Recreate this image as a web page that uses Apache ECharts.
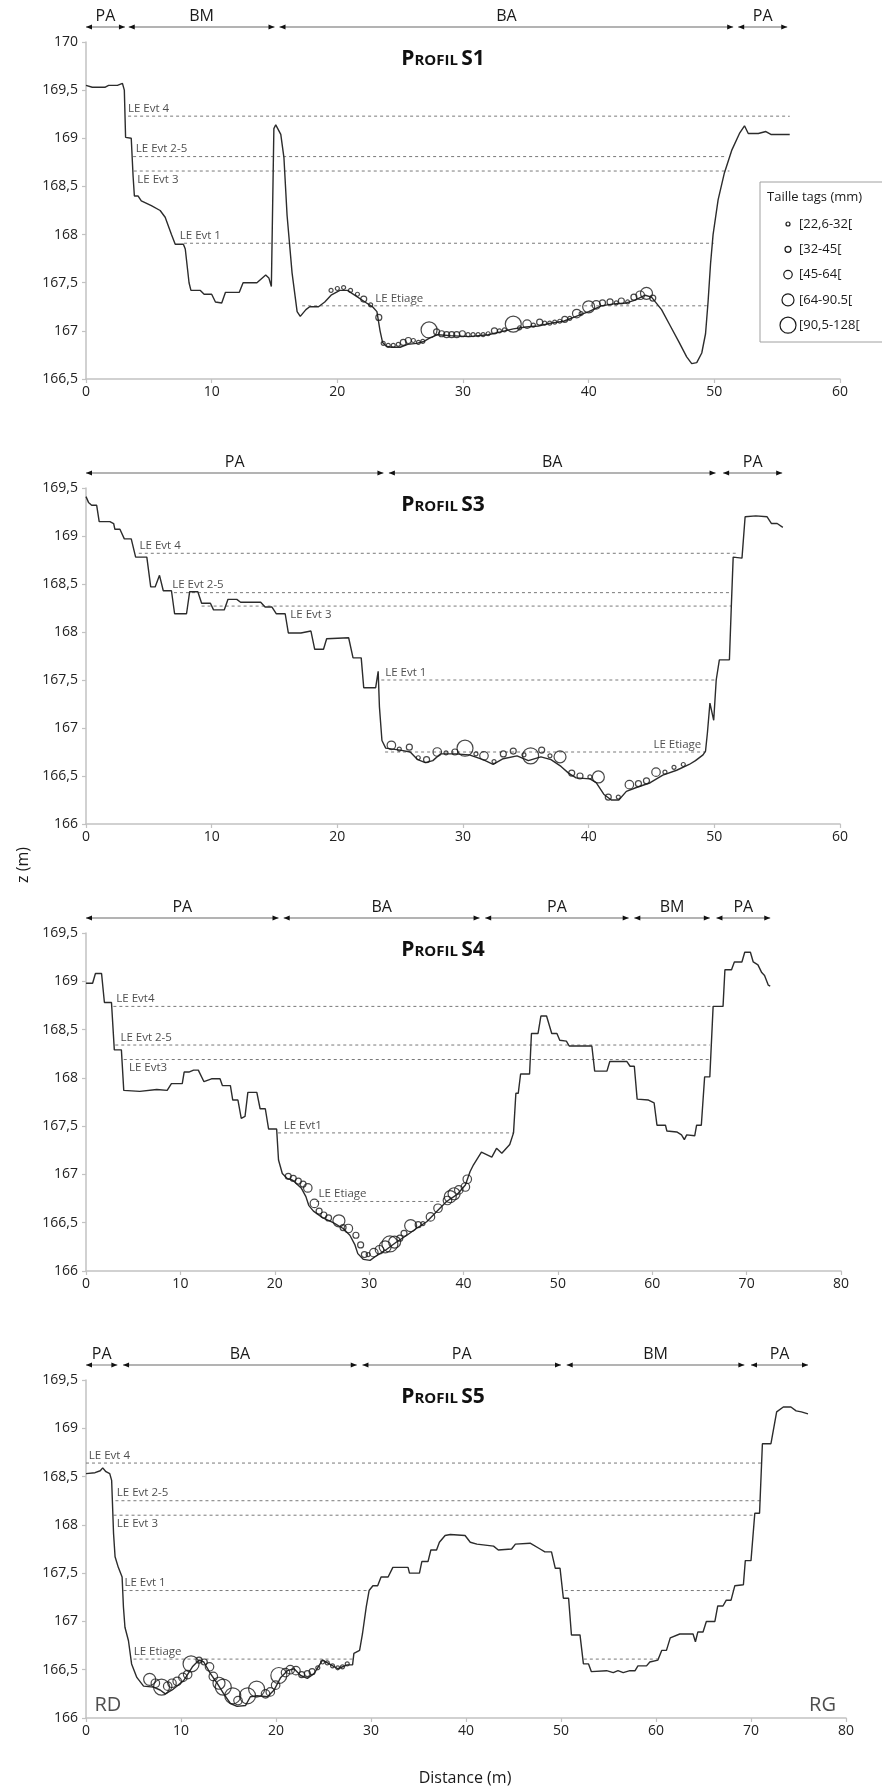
<!DOCTYPE html>
<html><head><meta charset="utf-8">
<script src="https://cdn.jsdelivr.net/npm/echarts@6/dist/echarts.min.js"></script>
<style>html,body{margin:0;padding:0;background:#fff}#c{width:882px;height:1789px}</style>
</head><body><div id="c"></div>
<script>
// ---------- DATA ----------
const tagClasses = ['[22,6-32[', '[32-45[', '[45-64[', '[64-90.5[', '[90,5-128['];

// Profil S1
const s1Profile = [[0,169.55],[0.5,169.53],[1.5,169.53],[1.8,169.55],[2.5,169.55],[2.9,169.57],[3.05,169.5],[3.15,169.01],[3.6,169.0],[3.75,168.6],[3.85,168.4],[4.15,168.4],[4.4,168.35],[5.2,168.3],[5.9,168.25],[6.3,168.18],[6.8,168.0],[7.1,167.9],[7.75,167.9],[7.9,167.85],[8.2,167.5],[8.35,167.42],[9.1,167.42],[9.4,167.38],[10.0,167.38],[10.3,167.3],[10.8,167.29],[11.1,167.4],[12.2,167.4],[12.5,167.5],[13.6,167.5],[14.3,167.58],[14.55,167.55],[14.75,167.46],[14.95,169.1],[15.1,169.14],[15.5,169.04],[15.75,168.8],[16.0,168.2],[16.4,167.6],[16.8,167.2],[17.05,167.15],[17.5,167.22],[17.8,167.25],[18.5,167.25],[19.0,167.3],[19.5,167.37],[20.2,167.42],[20.8,167.42],[21.5,167.36],[22.2,167.3],[22.8,167.25],[23.15,167.2],[23.4,167.0],[23.6,166.88],[23.9,166.84],[24.3,166.83],[25.0,166.83],[25.6,166.86],[26.3,166.87],[26.9,166.89],[27.4,166.93],[28.0,166.96],[29,166.95],[30.5,166.94],[32,166.96],[33,166.99],[34,167.02],[35,167.04],[36,167.05],[37,167.08],[38,167.1],[39,167.15],[40,167.2],[41,167.26],[42,167.28],[43,167.29],[43.7,167.32],[44.5,167.37],[45,167.35],[45.8,167.22],[46.5,167.05],[47.2,166.88],[47.8,166.73],[48.2,166.66],[48.6,166.67],[49.0,166.77],[49.3,166.97],[49.5,167.3],[49.7,167.7],[49.9,168.0],[50.3,168.36],[50.8,168.64],[51.4,168.88],[52.0,169.05],[52.4,169.13],[52.7,169.05],[53.5,169.05],[54.1,169.07],[54.5,169.04],[56,169.04]];
const s1Tags = [[19.5,167.42,1],[20.0,167.44,1],[20.5,167.45,1],[21.05,167.42,1],[21.6,167.38,1],[22.1,167.33,2],[22.65,167.27,1],[23.3,167.14,2],[23.65,166.87,1],[24.05,166.85,1],[24.45,166.85,1],[24.85,166.86,1],[25.25,166.88,2],[25.65,166.9,2],[26.05,166.9,1],[26.45,166.88,1],[26.8,166.89,1],[27.3,167.01,5],[27.9,166.99,2],[28.3,166.97,2],[28.7,166.96,2],[29.1,166.96,2],[29.5,166.96,2],[29.95,166.97,2],[30.4,166.96,1],[30.8,166.96,1],[31.2,166.96,1],[31.6,166.96,1],[32.0,166.97,1],[32.5,167.0,2],[32.9,167.0,1],[33.3,167.01,1],[34.0,167.07,5],[34.5,167.03,1],[35.1,167.07,3],[35.6,167.06,1],[36.1,167.09,2],[36.5,167.08,1],[36.9,167.08,1],[37.3,167.09,1],[37.7,167.1,1],[38.1,167.12,2],[38.5,167.13,1],[39.05,167.18,3],[39.4,167.18,1],[40.0,167.25,4],[40.6,167.27,3],[41.1,167.29,2],[41.7,167.3,2],[42.2,167.29,1],[42.6,167.31,2],[43.1,167.3,1],[43.6,167.35,2],[44.1,167.37,3],[44.6,167.39,4],[45.1,167.34,2]];
const s1Levels = [['LE Evt 4',169.23,[[3.35,56.0]]],['LE Evt 2-5',168.81,[[3.75,51.0]]],['LE Evt 3',168.66,[[3.8,51.2]]],['LE Evt 1',167.91,[[7.8,49.95]]],['LE Etiage',167.26,[[17.2,49.4]]]];
const s1LevelLabels = [['LE Evt 4',3.38,169.23],['LE Evt 2-5',4.0,168.81],['LE Evt 3',4.12,168.66],['LE Evt 1',7.5,167.91],['LE Etiage',23.06,167.26]];
const s1LabelSides = ['above','above','below','above','above'];
const s1Zones = [['PA',0,3.1],['BM',3.4,15.0],['BA',15.4,51.5],['PA',51.9,55.8]];

// Profil S3
const s3Profile = [[0,169.41],[0.2,169.35],[0.45,169.32],[0.85,169.32],[1.05,169.15],[1.9,169.15],[2.2,169.13],[2.3,169.07],[2.7,169.07],[3.05,168.97],[3.6,168.97],[3.95,168.78],[4.84,168.78],[5.15,168.47],[5.5,168.47],[5.85,168.59],[6.15,168.43],[6.8,168.43],[7.05,168.19],[8.0,168.19],[8.25,168.42],[8.9,168.42],[9.2,168.3],[9.9,168.3],[10.15,168.23],[11.0,168.23],[11.3,168.34],[12.0,168.34],[12.3,168.31],[13.9,168.31],[14.25,168.26],[14.8,168.26],[15.15,168.19],[15.85,168.19],[16.1,167.99],[17.1,167.99],[17.9,168.01],[18.2,167.82],[18.9,167.82],[19.15,167.93],[20.9,167.94],[21.25,167.73],[21.9,167.73],[22.1,167.42],[23.05,167.42],[23.25,167.59],[23.35,167.22],[23.55,166.87],[23.85,166.79],[25.0,166.77],[25.8,166.75],[26.4,166.67],[27.0,166.64],[27.6,166.66],[28.2,166.73],[29.4,166.73],[30.5,166.72],[31.6,166.67],[32.4,166.62],[33.2,166.68],[34.3,166.71],[35.2,166.66],[36.2,166.7],[37.0,166.67],[37.8,166.6],[38.4,166.53],[39.0,166.48],[40.1,166.47],[40.6,166.43],[41.2,166.31],[41.8,166.25],[42.4,166.25],[43.0,166.34],[43.8,166.38],[44.9,166.43],[45.9,166.51],[47.0,166.56],[48.0,166.62],[48.5,166.66],[49.1,166.72],[49.3,166.76],[49.45,166.95],[49.65,167.26],[49.95,167.08],[50.15,167.5],[50.4,167.71],[51.2,167.71],[51.35,168.26],[51.5,168.78],[52.2,168.77],[52.45,169.2],[53.3,169.21],[54.2,169.2],[54.55,169.13],[55.0,169.13],[55.45,169.09]];
const s3Tags = [[24.3,166.82,3],[24.93,166.78,1],[25.73,166.8,2],[26.44,166.69,1],[27.1,166.67,2],[27.95,166.75,3],[28.65,166.74,1],[29.36,166.75,2],[30.16,166.79,5],[31.03,166.73,1],[31.67,166.71,3],[32.47,166.65,1],[33.21,166.73,2],[34.0,166.76,2],[34.85,166.72,1],[35.38,166.71,5],[36.26,166.77,2],[36.92,166.71,1],[37.72,166.7,4],[38.65,166.53,2],[39.31,166.5,2],[40.1,166.49,1],[40.77,166.49,4],[41.56,166.28,2],[42.36,166.28,1],[43.24,166.41,3],[43.96,166.42,2],[44.6,166.45,2],[45.36,166.54,3],[46.07,166.54,1],[46.79,166.59,1],[47.53,166.62,1]];
const s3Levels = [['LE Evt 4',168.82,[[4.2,51.7]]],['LE Evt 2-5',168.41,[[7.0,51.4]]],['LE Evt 3',168.27,[[9.2,51.4]]],['LE Evt 1',167.5,[[23.5,50.2]]],['LE Etiage',166.75,[[23.8,49.3]]]];
const s3LevelLabels = [['LE Evt 4',4.3,168.82],['LE Evt 2-5',6.9,168.41],['LE Evt 3',16.3,168.27],['LE Evt 1',23.85,167.5],['LE Etiage',49.0,166.75]];
const s3LabelSides = ['above','above','below','above','aboveRight'];
const s3Zones = [['PA',0,23.67],['BA',24.1,50.1],['PA',50.7,55.4]];

// Profil S4
const s4Profile = [[0,168.98],[0.7,168.98],[1.0,169.08],[1.65,169.08],[1.95,168.78],[2.7,168.78],[3.0,168.29],[3.75,168.29],[4.0,167.87],[5.7,167.86],[7.5,167.88],[8.6,167.87],[9.05,167.94],[10.2,167.94],[10.4,168.06],[10.9,168.06],[11.4,168.08],[11.9,168.08],[12.5,167.96],[13.3,167.99],[14.2,167.99],[14.45,167.92],[15.3,167.92],[15.55,167.77],[16.1,167.77],[16.45,167.58],[16.85,167.6],[17.15,167.85],[18.1,167.85],[18.45,167.68],[19.0,167.68],[19.35,167.47],[20.2,167.47],[20.4,167.15],[20.8,167.01],[21.3,166.96],[21.9,166.94],[22.8,166.86],[23.3,166.77],[23.6,166.68],[24.1,166.62],[25.1,166.55],[26.2,166.5],[27.25,166.44],[27.96,166.37],[28.5,166.27],[28.8,166.18],[29.4,166.12],[30.1,166.11],[30.8,166.16],[31.8,166.22],[32.9,166.3],[34.0,166.37],[35.0,166.44],[36.1,166.51],[36.8,166.58],[37.5,166.65],[38.2,166.72],[39.3,166.79],[40.2,166.89],[40.7,167.03],[41.06,167.1],[41.9,167.23],[43.0,167.18],[43.5,167.27],[44.06,167.22],[44.9,167.31],[45.3,167.43],[45.55,167.84],[45.8,167.84],[46.05,168.04],[47.0,168.04],[47.2,168.46],[47.9,168.46],[48.2,168.64],[48.8,168.64],[49.35,168.46],[49.9,168.46],[50.2,168.39],[50.9,168.38],[51.2,168.33],[53.6,168.33],[53.9,168.07],[55.2,168.07],[55.5,168.17],[57.3,168.17],[57.65,168.12],[58.1,168.12],[58.4,167.78],[59.6,167.77],[60.2,167.74],[60.5,167.51],[61.4,167.51],[61.55,167.45],[62.6,167.44],[63.1,167.41],[63.4,167.36],[63.65,167.41],[64.5,167.4],[64.7,167.51],[65.2,167.51],[65.55,168.01],[66.1,168.01],[66.45,168.74],[67.5,168.74],[67.7,169.12],[68.4,169.12],[68.7,169.2],[69.5,169.2],[69.8,169.3],[70.4,169.3],[70.7,169.2],[71.2,169.17],[71.6,169.09],[71.9,169.06],[72.3,168.96],[72.5,168.95]];
const s4Tags = [[21.43,166.98,2],[21.96,166.96,2],[22.5,166.93,2],[23.0,166.9,2],[23.5,166.86,3],[24.2,166.7,3],[24.7,166.62,2],[25.2,166.58,2],[25.7,166.55,2],[26.8,166.52,4],[27.24,166.45,2],[27.8,166.44,3],[28.6,166.37,2],[29.1,166.27,2],[29.5,166.17,2],[29.9,166.17,1],[30.5,166.19,3],[31.1,166.22,3],[31.7,166.25,4],[32.2,166.28,5],[32.7,166.3,4],[33.25,166.34,2],[33.7,166.39,2],[34.4,166.47,4],[35.2,166.48,2],[35.7,166.49,1],[36.5,166.56,3],[37.3,166.65,3],[38.3,166.73,3],[38.6,166.77,4],[39.0,166.8,4],[39.5,166.84,3],[40.2,166.87,3],[40.4,166.95,3]];
const s4Levels = [['LE Evt4',168.74,[[2.9,66.5]]],['LE Evt 2-5',168.34,[[3.1,66.1]]],['LE Evt3',168.19,[[4.0,66.1]]],['LE Evt1',167.43,[[20.35,45.3]]],['LE Etiage',166.72,[[24.4,37.7]]]];
const s4LevelLabels = [['LE Evt4',3.26,168.74],['LE Evt 2-5',3.7,168.34],['LE Evt3',4.6,168.19],['LE Evt1',21.0,167.43],['LE Etiage',24.7,166.72]];
const s4LabelSides = ['above','above','below','above','above'];
const s4Zones = [['PA',0,20.4],['BA',20.95,41.7],['PA',42.3,57.5],['BM',58.1,66.1],['PA',66.8,72.5]];

// Profil S5
const s5Profile = [[0,168.53],[0.95,168.54],[1.5,168.56],[1.76,168.59],[2.1,168.55],[2.5,168.53],[2.7,168.46],[2.9,167.91],[3.06,167.67],[3.4,167.56],[3.8,167.46],[3.94,167.15],[4.1,166.94],[4.47,166.8],[4.8,166.56],[5.35,166.42],[6.06,166.33],[7.1,166.32],[7.8,166.29],[8.35,166.25],[9.2,166.3],[10.3,166.39],[11.2,166.53],[11.9,166.6],[12.4,166.58],[13.1,166.46],[13.8,166.36],[14.5,166.25],[15.2,166.15],[15.9,166.12],[16.8,166.13],[17.3,166.22],[18.0,166.23],[19.1,166.22],[19.8,166.29],[20.5,166.42],[21.2,166.49],[21.9,166.51],[22.6,166.44],[23.3,166.41],[24.0,166.46],[24.9,166.6],[25.8,166.55],[26.5,166.51],[27.5,166.55],[28.06,166.55],[28.2,166.67],[28.8,166.7],[29.1,166.87],[29.5,167.15],[29.8,167.32],[30.2,167.37],[30.7,167.37],[31.06,167.46],[31.8,167.46],[32.3,167.56],[33.9,167.56],[34.05,167.5],[35.1,167.5],[35.35,167.62],[36.0,167.62],[36.3,167.74],[36.9,167.74],[37.2,167.82],[37.8,167.89],[38.35,167.9],[39.9,167.89],[40.45,167.82],[41.15,167.8],[42.9,167.78],[43.4,167.74],[44.8,167.75],[45.2,167.8],[46.75,167.81],[47.8,167.75],[48.3,167.72],[49.0,167.72],[49.4,167.55],[49.9,167.55],[50.25,167.24],[50.8,167.24],[51.1,166.86],[52.0,166.86],[52.36,166.56],[52.9,166.56],[53.2,166.48],[54.8,166.49],[55.5,166.47],[56.0,166.49],[56.55,166.47],[57.25,166.49],[57.8,166.49],[58.1,166.54],[59.0,166.54],[59.35,166.58],[60.2,166.6],[60.6,166.7],[61.1,166.7],[61.5,166.83],[62.5,166.87],[63.9,166.87],[64.15,166.79],[64.4,166.89],[64.95,166.89],[65.3,167.0],[66.2,167.0],[66.5,167.16],[67.05,167.16],[67.4,167.22],[67.9,167.22],[68.3,167.37],[69.2,167.38],[69.4,167.63],[70.0,167.63],[70.4,168.12],[70.9,168.12],[71.2,168.84],[72.1,168.84],[72.7,169.17],[73.4,169.22],[74.2,169.22],[74.75,169.18],[75.3,169.17],[76.0,169.15]];
const s5Tags = [[6.7,166.4,4],[7.3,166.36,3],[7.95,166.32,5],[8.6,166.33,3],[9.05,166.36,3],[9.6,166.38,3],[10.2,166.42,3],[10.7,166.45,3],[11.06,166.56,5],[11.9,166.6,2],[12.45,166.58,2],[13.0,166.53,3],[13.4,166.43,3],[14.0,166.36,4],[14.45,166.32,5],[15.45,166.23,5],[16.0,166.18,3],[17.0,166.23,5],[17.96,166.3,5],[18.9,166.25,3],[19.4,166.27,3],[19.96,166.34,3],[20.3,166.44,5],[21.0,166.47,3],[21.5,166.5,3],[22.1,166.49,3],[22.7,166.45,2],[23.3,166.46,2],[23.8,166.48,2],[24.4,166.52,1],[24.9,166.58,1],[25.4,166.57,1],[25.95,166.54,1],[26.5,166.52,1],[27.0,166.53,1],[27.5,166.56,1]];
const s5Levels = [['LE Evt 4',168.64,[[0,71.1]]],['LE Evt 2-5',168.25,[[3.1,71.1]]],['LE Evt 3',168.1,[[2.9,70.4]]],['LE Evt 1',167.32,[[3.95,29.8],[50.4,68.2]]],['LE Etiage',166.61,[[5.0,28.2],[52.4,60.2]]]];
const s5LevelLabels = [['LE Evt 4',0.35,168.64],['LE Evt 2-5',3.3,168.25],['LE Evt 3',3.3,168.1],['LE Evt 1',4.1,167.32],['LE Etiage',5.07,166.61]];
const s5LabelSides = ['above','above','below','above','above'];
const s5Zones = [['PA',0,3.3],['BA',3.9,28.5],['PA',29.1,50.0],['BM',50.6,69.3],['PA',70.0,76.0]];
const s5Banks = [['RD',0.95,166.13],['RG',79.0,166.13]];

const titles = ['S1','S3','S4','S5'];
const yMins = [166.5,166,166,166];
const yMaxs = [170,169.5,169.5,169.5];
const xMaxs = [60,60,80,80];

// ---------- STYLE / LAYOUT ----------
const FONT = '"Open Sans", "Noto Sans", sans-serif';
const tagSizes = [4, 6, 8.5, 12, 16];
const grids = [
  {left:86, top:42, width:754, height:337},
  {left:86, top:488, width:754, height:336},
  {left:86, top:933, width:755, height:338},
  {left:86, top:1380, width:760, height:338}
];
const panels = [
  {profile:s1Profile, tags:s1Tags, levels:s1Levels, labels:s1LevelLabels, sides:s1LabelSides, zones:s1Zones},
  {profile:s3Profile, tags:s3Tags, levels:s3Levels, labels:s3LevelLabels, sides:s3LabelSides, zones:s3Zones},
  {profile:s4Profile, tags:s4Tags, levels:s4Levels, labels:s4LevelLabels, sides:s4LabelSides, zones:s4Zones},
  {profile:s5Profile, tags:s5Tags, levels:s5Levels, labels:s5LevelLabels, sides:s5LabelSides, zones:s5Zones}
];
const axisCol = '#c2c2c2';

const xAxis = [], yAxis = [], series = [], graphic = [];
panels.forEach((p, i) => {
  xAxis.push({gridIndex:i, type:'value', min:0, max:xMaxs[i], interval:10,
    axisLine:{show:true, lineStyle:{color:axisCol, width:1.5}},
    axisTick:{show:true, length:4, lineStyle:{color:axisCol, width:1.2}},
    splitLine:{show:false},
    axisLabel:{color:'#222', fontSize:14, fontFamily:FONT, margin:6}});
  yAxis.push({gridIndex:i, type:'value', min:yMins[i], max:yMaxs[i], interval:0.5,
    axisLine:{show:true, lineStyle:{color:axisCol, width:1.5}},
    axisTick:{show:true, length:4, lineStyle:{color:axisCol, width:1.2}},
    splitLine:{show:false},
    axisLabel:{color:'#222', fontSize:14, fontFamily:FONT, margin:8,
      formatter: v => String(v).replace('.', ',')}});
  // water levels
  p.levels.forEach(l => l[2].forEach(seg => series.push({
    type:'line', xAxisIndex:i, yAxisIndex:i, name:l[0], silent:true, animation:false,
    data:[[seg[0], l[1]], [seg[1], l[1]]], showSymbol:false, z:2,
    lineStyle:{color:'#7a7a7a', width:1, type:[3,3]}})));
  // profile
  series.push({type:'line', xAxisIndex:i, yAxisIndex:i, name:'Profil '+titles[i], data:p.profile,
    showSymbol:false, silent:true, animation:false, z:3,
    lineStyle:{color:'#2c2c2c', width:1.4}});
  // tags
  series.push({type:'scatter', xAxisIndex:i, yAxisIndex:i, name:'tags', silent:true, animation:false, z:4,
    data:p.tags.map(t => ({value:[t[0], t[1]], symbolSize:tagSizes[t[2]-1]})),
    itemStyle:{color:'rgba(0,0,0,0)', borderColor:'#1a1a1a', borderWidth:1.2}});
  // level labels
  series.push({type:'scatter', xAxisIndex:i, yAxisIndex:i, silent:true, animation:false, z:5,
    symbolSize:1, itemStyle:{color:'rgba(0,0,0,0)'},
    data:p.labels.map((l, k) => {
      const s = p.sides[k];
      return {value:[l[1], l[2]], label:{show:true, formatter:l[0],
        position: s === 'below' ? [0, 3] : [0, -1],
        align: s === 'aboveRight' ? 'right' : 'left',
        verticalAlign: s === 'below' ? 'top' : 'bottom',
        fontSize:11.5, fontFamily:FONT, color:'#222'}};
    })});
  // zone arrows
  series.push({type:'custom', xAxisIndex:i, yAxisIndex:i, silent:true, animation:false, clip:false, z:5,
    data:p.zones.map(zn => [zn[1], zn[2], yMins[i]]),
    encode:{x:[0,1], y:2},
    renderItem:(params, api) => {
      const x1 = api.coord([api.value(0), yMins[i]])[0];
      const x2 = api.coord([api.value(1), yMins[i]])[0];
      const y = params.coordSys.y - 15;
      const lbl = p.zones[params.dataIndex][0];
      return {type:'group', children:[
        {type:'line', shape:{x1:x1, y1:y, x2:x2, y2:y}, style:{stroke:'#9a9a9a', lineWidth:1.3}},
        {type:'polygon', shape:{points:[[x1,y],[x1+6,y-2.6],[x1+6,y+2.6]]}, style:{fill:'#111'}},
        {type:'polygon', shape:{points:[[x2,y],[x2-6,y-2.6],[x2-6,y+2.6]]}, style:{fill:'#111'}},
        {type:'text', x:(x1+x2)/2, y:y-11, style:{text:lbl, align:'center', verticalAlign:'middle',
          font:'16px ' + FONT, fill:'#1a1a1a'}}
      ]};
    }});
  // title
  graphic.push({type:'text', x:443, y:grids[i].top + 17, z:10,
    style:{text:'{a|P}{b|ROFIL} {a|' + titles[i] + '}', align:'center', verticalAlign:'middle',
      rich:{a:{fontSize:21, fontWeight:'bold', fontFamily:FONT, fill:'#111', verticalAlign:'bottom'},
            b:{fontSize:15, fontWeight:'bold', fontFamily:FONT, fill:'#111', verticalAlign:'bottom', padding:[0,0,1,0]}}}});
});

// banks RD / RG on S5
series.push({type:'scatter', xAxisIndex:3, yAxisIndex:3, silent:true, animation:false, z:5,
  symbolSize:1, itemStyle:{color:'rgba(0,0,0,0)'},
  data:s5Banks.map(b => ({value:[b[1], b[2]], label:{show:true, formatter:b[0], position:[0,0],
    align: b[0] === 'RG' ? 'right' : 'left', verticalAlign:'middle', fontSize:20, fontFamily:FONT, color:'#222'}}))});

// legend (tag sizes)
graphic.push({type:'rect', shape:{x:760, y:182, width:140, height:160}, style:{fill:'#fff', stroke:'#a0a0a0', lineWidth:1}, z:10});
graphic.push({type:'text', x:767, y:197, z:11, style:{text:'Taille tags (mm)', font:'13px ' + FONT, fill:'#1a1a1a', verticalAlign:'middle'}});
tagClasses.forEach((c, k) => {
  const cy = 224 + k * 25.3;
  graphic.push({type:'circle', shape:{cx:788, cy:cy, r:tagSizes[k]/2}, z:11, style:{fill:'none', stroke:'#1a1a1a', lineWidth:1.2}});
  graphic.push({type:'text', x:799, y:cy, z:11, style:{text:c, font:'13px ' + FONT, fill:'#1a1a1a', verticalAlign:'middle'}});
});
// axis names
graphic.push({type:'text', x:23, y:865, rotation:Math.PI/2, z:10,
  style:{text:'z (m)', font:'16px ' + FONT, fill:'#1a1a1a', align:'center', verticalAlign:'middle'}});
graphic.push({type:'text', x:465, y:1778, z:10,
  style:{text:'Distance (m)', font:'16px ' + FONT, fill:'#1a1a1a', align:'center', verticalAlign:'middle'}});

const chart = echarts.init(document.getElementById('c'), null, {renderer:'canvas'});
chart.setOption({
  backgroundColor:'#fff', animation:false,
  grid:grids, xAxis:xAxis, yAxis:yAxis, series:series, graphic:graphic
});
</script></body></html>
